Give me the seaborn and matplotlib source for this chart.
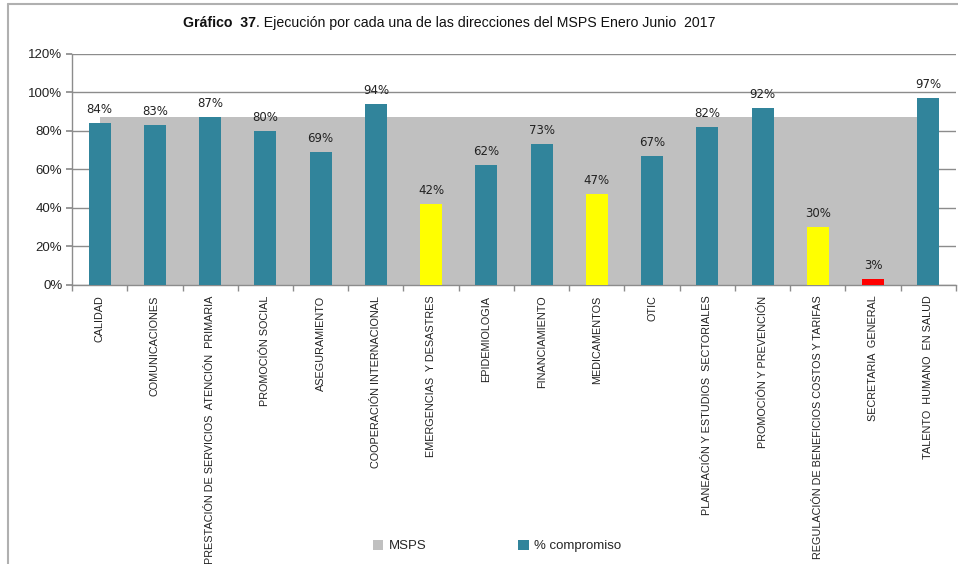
import matplotlib
matplotlib.use("Agg")
import matplotlib.pyplot as plt
from matplotlib.patches import Patch
from matplotlib.lines import Line2D
from matplotlib.ticker import FuncFormatter, FixedLocator
import seaborn as sns
import pandas as pd

# Direcciones del MSPS
categories = [
    "CALIDAD",
    "COMUNICACIONES",
    "PRESTACIÓN DE SERVICIOS  ATENCIÓN  PRIMARIA",
    "PROMOCIÓN SOCIAL",
    "ASEGURAMIENTO",
    "COOPERACIÓN INTERNACIONAL",
    "EMERGENCIAS  Y DESASTRES",
    "EPIDEMIOLOGIA",
    "FINANCIAMIENTO",
    "MEDICAMENTOS",
    "OTIC",
    "PLANEACIÓN Y ESTUDIOS  SECTORIALES",
    "PROMOCIÓN Y PREVENCIÓN",
    "REGULACIÓN DE BENEFICIOS COSTOS Y TARIFAS",
    "SECRETARIA  GENERAL",
    "TALENTO  HUMANO  EN SALUD",
]
# % compromiso por dirección
compromiso = [84, 83, 87, 80, 69, 94, 42, 62, 73, 47, 67, 82, 92, 30, 3, 97]
# Ejecución global MSPS
msps = [87, 87, 87, 87, 87, 87, 87, 87, 87, 87, 87, 87, 87, 87, 87, 87]
y_ticks = [0, 20, 40, 60, 80, 100, 120]

TEAL = "#31849B"
GRAY = "#C0C0C0"
YELLOW = "#FFFF00"
RED = "#FF0000"


def semaforo(v):
    if v < 10:
        return RED
    if v < 50:
        return YELLOW
    return TEAL


sns.set_theme(style="white")
plt.rcParams["font.family"] = ["Liberation Sans", "DejaVu Sans"]

W, H = 958, 564
fig = plt.figure(figsize=(W / 100, H / 100), dpi=100)
fig.patch.set_facecolor("white")

left, right, top, bottom = 72, 956, 54, 284.5
ax = fig.add_axes([left / W, 1 - bottom / H, (right - left) / W, (bottom - top) / H])

df = pd.DataFrame({"direccion": categories, "valor": compromiso})
palette = {c: semaforo(v) for c, v in zip(categories, compromiso)}

pos = list(range(len(categories)))
ax.fill_between(pos, 0, msps, color=GRAY, linewidth=0, zorder=2)

sns.barplot(data=df, x="direccion", y="valor", hue="direccion", palette=palette,
            width=0.4, saturation=1, legend=False, ax=ax, zorder=3, linewidth=0)

for i, v in enumerate(compromiso):
    ax.text(i, v + 3.6, f"{v}%", ha="center", va="bottom", fontsize=8.5,
            family="DejaVu Sans", color="#222222", zorder=4)

ax.set_xlim(-0.5, len(categories) - 0.5)
ax.set_ylim(0, 120)
ax.set_yticks(y_ticks)
ax.yaxis.set_major_formatter(FuncFormatter(lambda v, p: f"{v:.0f}%"))
ax.grid(axis="y", color="#8C8C8C", linewidth=1, zorder=1)
ax.set_axisbelow(True)
ax.set_xlabel("")
ax.set_ylabel("")

for s in ["top", "right"]:
    ax.spines[s].set_visible(False)
for s in ["left", "bottom"]:
    ax.spines[s].set_color("#8C8C8C")
    ax.spines[s].set_linewidth(1)

ax.tick_params(axis="y", which="major", length=4, color="#8C8C8C", direction="out",
               labelsize=9.5, pad=3, left=True, labelcolor="#222222")
ax.set_xticks(pos)
ax.set_xticklabels(categories, rotation=90, fontsize=7.8, color="#222222",
                   va="top", ha="center")
ax.tick_params(axis="x", which="major", length=0, pad=8)
ax.xaxis.set_minor_locator(FixedLocator([i + 0.5 for i in range(-1, len(categories))]))
ax.tick_params(axis="x", which="minor", length=4, color="#8C8C8C", direction="out", bottom=True)

# título con parte en negrita
fig.canvas.draw()
r = fig.canvas.get_renderer()
t1 = fig.text(183 / W, 1 - 23 / H, "Gráfico  37", fontsize=10.2, fontweight="bold",
              ha="left", va="center", color="#111111")
bb = t1.get_window_extent(renderer=r)
fig.text(bb.x1 / W, 1 - 23 / H, ". Ejecución por cada una de las direcciones del MSPS Enero Junio  2017",
         fontsize=10.2, ha="left", va="center", color="#111111")

# marco exterior
frame_c = "#B0B0B0"
fig.add_artist(Line2D([8 / W, 8 / W], [0, 1 - 4 / H], color=frame_c, lw=1.5))
fig.add_artist(Line2D([8 / W, 1], [1 - 4 / H, 1 - 4 / H], color=frame_c, lw=1.5))

handles = [Patch(facecolor=GRAY, edgecolor="none"), Patch(facecolor=TEAL, edgecolor="none")]
fig.legend(handles, ["MSPS", "% compromiso"], loc="center",
           bbox_to_anchor=(497 / W, 1 - 546 / H), ncol=2, frameon=False,
           handlelength=0.8, handleheight=0.8, handletextpad=0.4,
           columnspacing=7, fontsize=9.5)

fig.savefig("out.png", dpi=100)
